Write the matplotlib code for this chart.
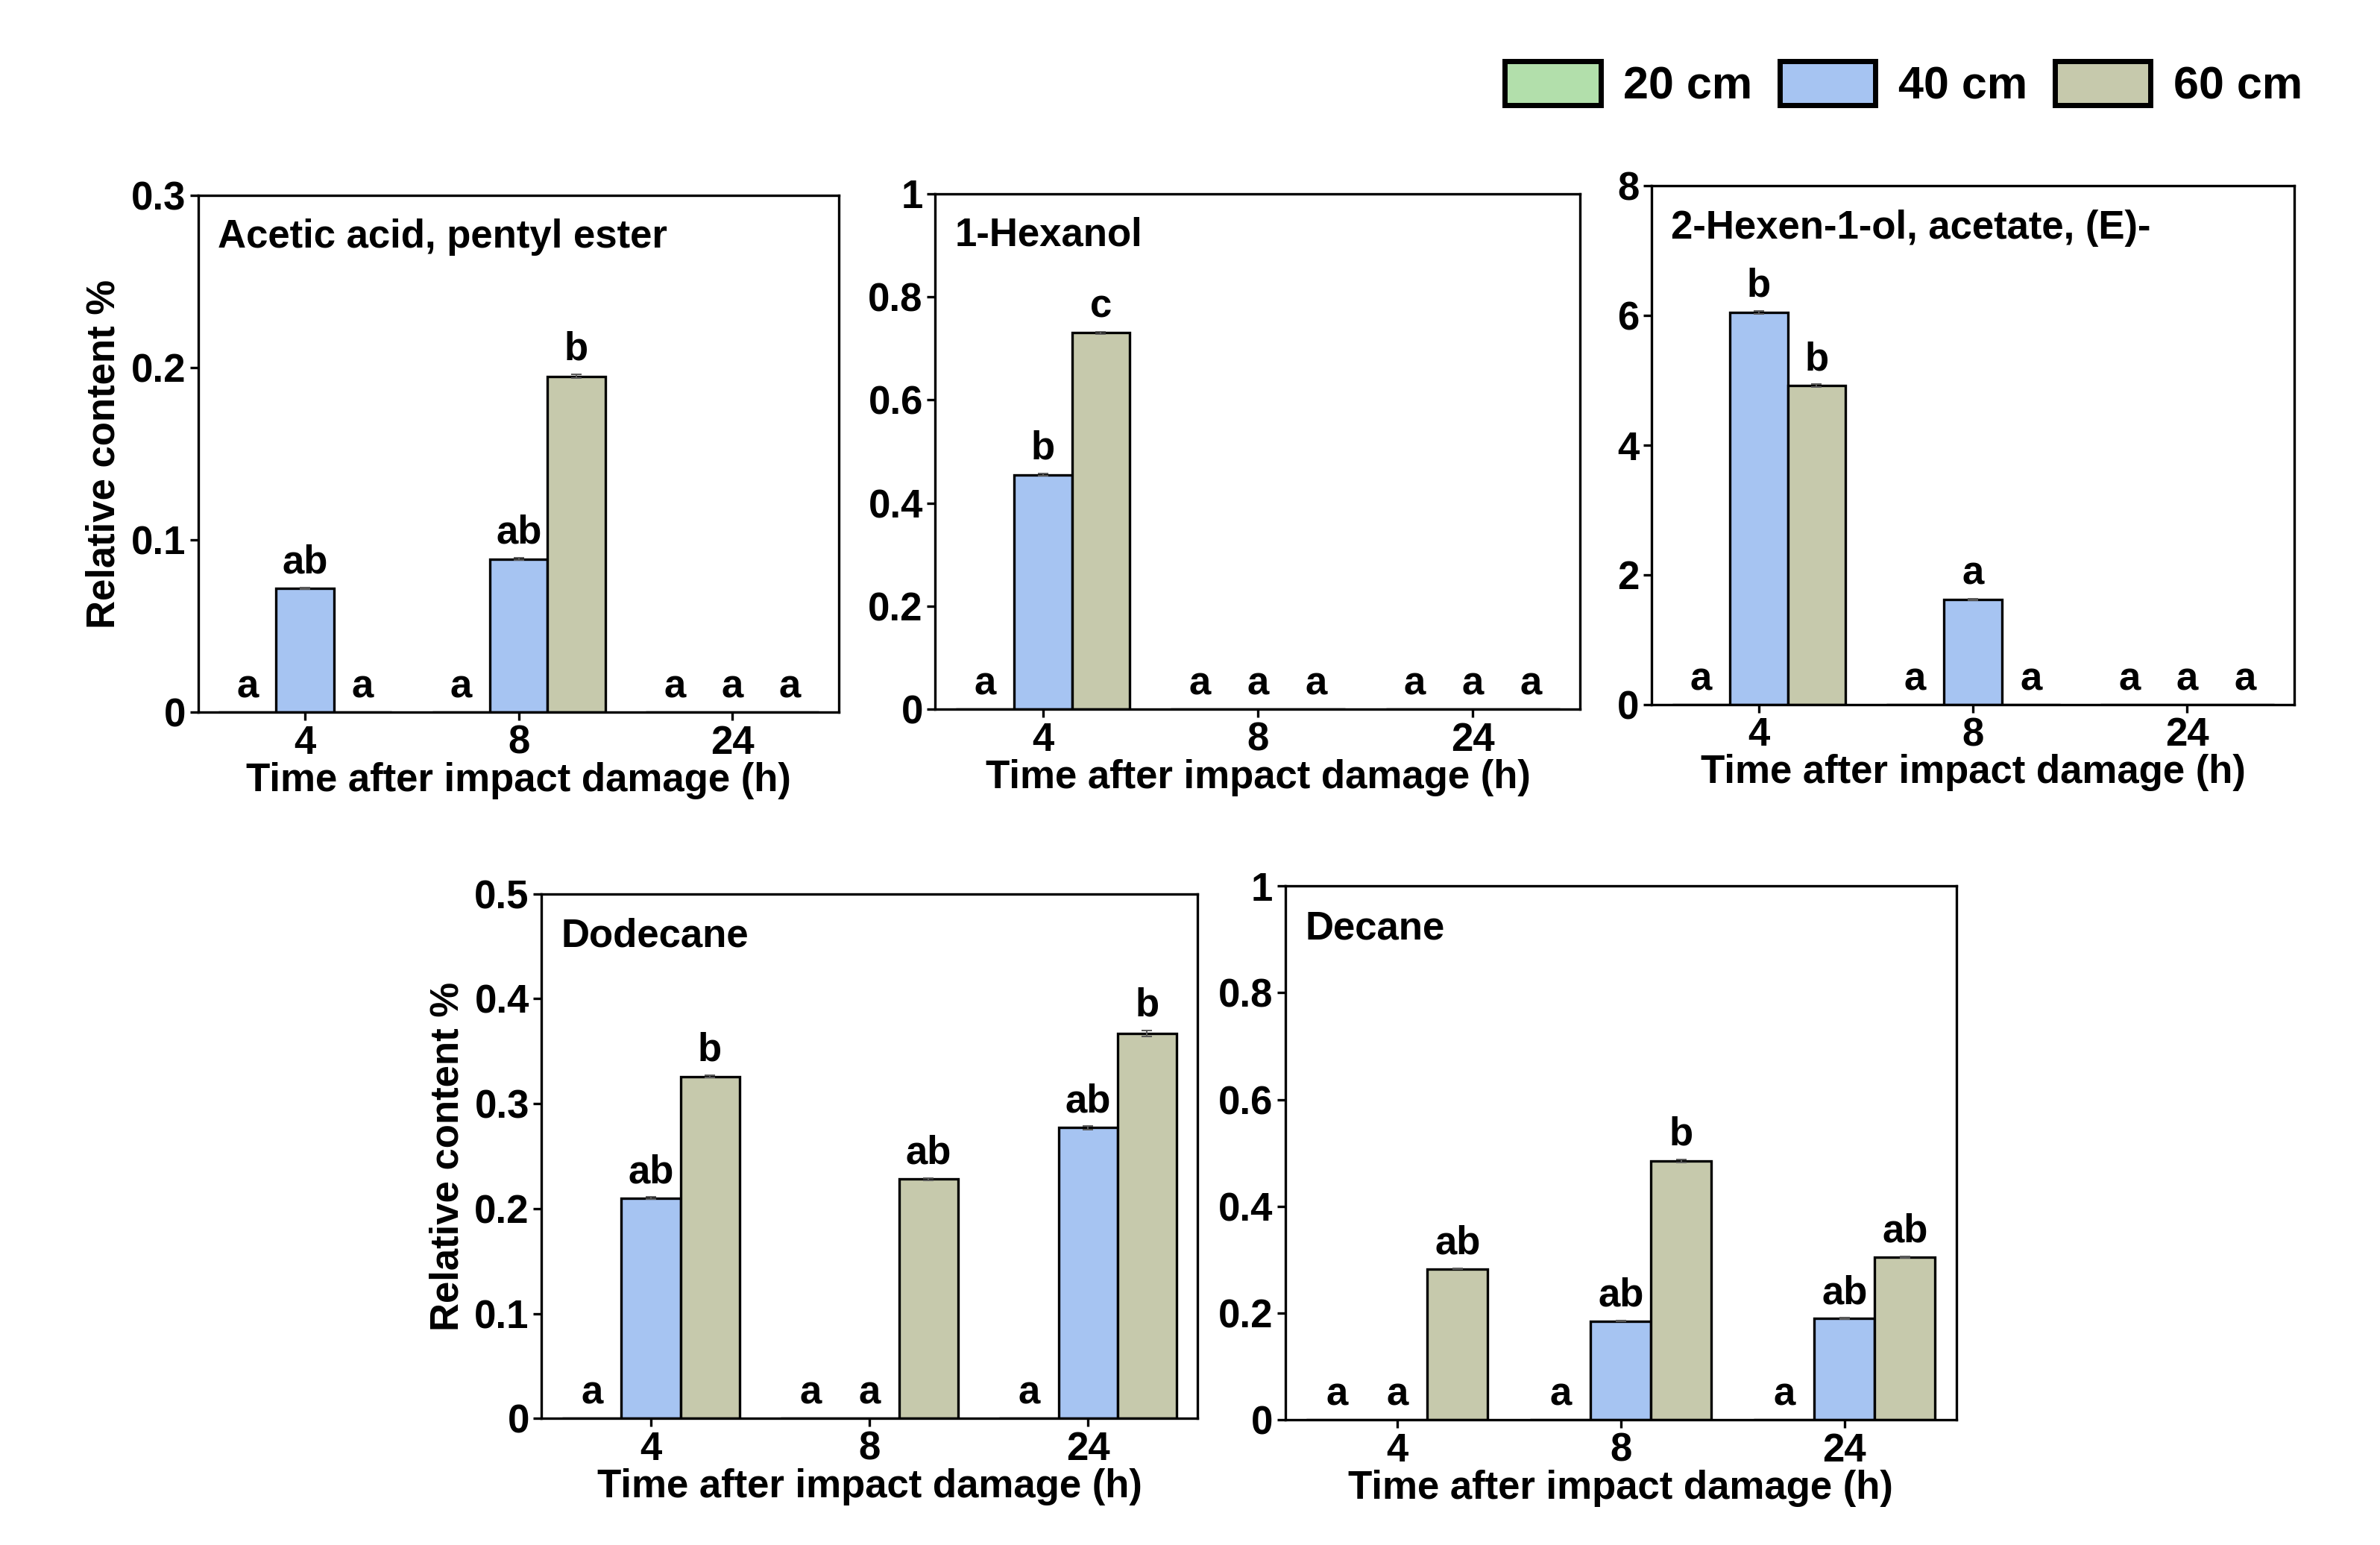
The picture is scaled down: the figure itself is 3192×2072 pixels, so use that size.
import matplotlib
matplotlib.use('Agg')
import matplotlib.pyplot as plt
import numpy as np
from matplotlib.patches import Patch
from matplotlib.ticker import FuncFormatter

plt.rcParams['font.family'] = ['Liberation Sans', 'DejaVu Sans']
plt.rcParams['font.weight'] = 'bold'

# data (relative content %), rows = time points, cols = 20/40/60 cm
times = ['4', '8', '24']
series = ['20 cm', '40 cm', '60 cm']
colors = ['#b2dfab', '#a6c4f2', '#c6c9ac']

acetic_vals = [[0, 0.072, 0], [0, 0.089, 0.195], [0, 0, 0]]
acetic_err = [[0, 0.0005, 0], [0, 0.0006, 0.0012], [0, 0, 0]]
acetic_let = [['a', 'ab', 'a'], ['a', 'ab', 'b'], ['a', 'a', 'a']]

hexanol_vals = [[0, 0.455, 0.73], [0, 0, 0], [0, 0, 0]]
hexanol_err = [[0, 0.002, 0.002], [0, 0, 0], [0, 0, 0]]
hexanol_let = [['a', 'b', 'c'], ['a', 'a', 'a'], ['a', 'a', 'a']]

hexenyl_vals = [[0, 6.05, 4.92], [0, 1.62, 0], [0, 0, 0]]
hexenyl_err = [[0, 0.02, 0.02], [0, 0.01, 0], [0, 0, 0]]
hexenyl_let = [['a', 'b', 'b'], ['a', 'a', 'a'], ['a', 'a', 'a']]

dodecane_vals = [[0, 0.21, 0.326], [0, 0, 0.228], [0, 0.277, 0.367]]
dodecane_err = [[0, 0.001, 0.001], [0, 0, 0.001], [0, 0.0015, 0.003]]
dodecane_let = [['a', 'ab', 'b'], ['a', 'a', 'ab'], ['a', 'ab', 'b']]

decane_vals = [[0, 0, 0.283], [0, 0.185, 0.485], [0, 0.19, 0.305]]
decane_err = [[0, 0, 0.001], [0, 0.001, 0.003], [0, 0.001, 0.001]]
decane_let = [['a', 'a', 'ab'], ['a', 'ab', 'b'], ['a', 'ab', 'ab']]

panels = [
    ('Acetic acid, pentyl ester', acetic_vals, acetic_err, acetic_let, 0.3, [0, 0.1, 0.2, 0.3], True),
    ('1-Hexanol', hexanol_vals, hexanol_err, hexanol_let, 1, [0, 0.2, 0.4, 0.6, 0.8, 1], False),
    ('2-Hexen-1-ol, acetate, (E)-', hexenyl_vals, hexenyl_err, hexenyl_let, 8, [0, 2, 4, 6, 8], False),
    ('Dodecane', dodecane_vals, dodecane_err, dodecane_let, 0.5, [0, 0.1, 0.2, 0.3, 0.4, 0.5], True),
    ('Decane', decane_vals, decane_err, decane_let, 1, [0, 0.2, 0.4, 0.6, 0.8, 1], False),
]

# axes boxes [left, bottom, width, height]
boxes = [
    [0.0833, 0.539, 0.2693, 0.3346],
    [0.393, 0.541, 0.271, 0.3336],
    [0.694, 0.544, 0.270, 0.3356],
    [0.2276, 0.0819, 0.2754, 0.3396],
    [0.540, 0.081, 0.282, 0.3455],
]

fig = plt.figure(figsize=(15.96, 10.36), dpi=200)
w = 0.27
x = np.arange(len(times))
fs = 19

for (name, vals, errs, lets, ymax, yticks, ylab), box in zip(panels, boxes):
    ax = fig.add_axes(box)
    vals = np.array(vals)
    errs = np.array(errs)
    for j in range(3):
        xs = x + (j - 1) * w
        ax.bar(xs, vals[:, j], w, color=colors[j], edgecolor='black', linewidth=1.2, zorder=2)
        m = vals[:, j] > 0
        ax.errorbar(xs[m], vals[m, j], yerr=errs[m, j], fmt='none', ecolor='0.35',
                    elinewidth=0.7, capsize=2.5, capthick=0.7, zorder=3)
        for i in range(3):
            ax.annotate(lets[i][j], (xs[i], vals[i, j] + errs[i, j]), xytext=(0, 3),
                        textcoords='offset points', ha='center', va='bottom',
                        fontsize=fs, fontweight='bold')
    ax.set_xlim(-0.5, 2.5)
    ax.set_ylim(0, ymax)
    ax.set_yticks(yticks)
    ax.yaxis.set_major_formatter(FuncFormatter(lambda v, p: f'{v:g}'))
    ax.set_xticks(x)
    ax.set_xticklabels(times)
    ax.tick_params(axis='both', labelsize=fs, width=1.2, length=4, direction='out', pad=2)
    for lab in ax.get_xticklabels() + ax.get_yticklabels():
        lab.set_fontweight('bold')
    for s in ax.spines.values():
        s.set_linewidth(1.2)
    ax.set_xlabel('Time after impact damage (h)', fontsize=fs, fontweight='bold', labelpad=0)
    if ylab:
        ax.set_ylabel('Relative content %', fontsize=fs, fontweight='bold', labelpad=4)
    ax.text(0.03, 0.955, name, transform=ax.transAxes, ha='left', va='top',
            fontsize=fs, fontweight='bold')

handles = [Patch(facecolor=c, edgecolor='black', linewidth=2.5, label=s) for c, s in zip(colors, series)]
fig.legend(handles=handles, loc='upper right', bbox_to_anchor=(0.975, 0.972), ncol=3,
           frameon=False, handlelength=2.1, handleheight=1.1, borderaxespad=0,
           columnspacing=0.6, handletextpad=0.5, prop={'weight': 'bold', 'size': 22})

fig.savefig('out.png', dpi=200)
